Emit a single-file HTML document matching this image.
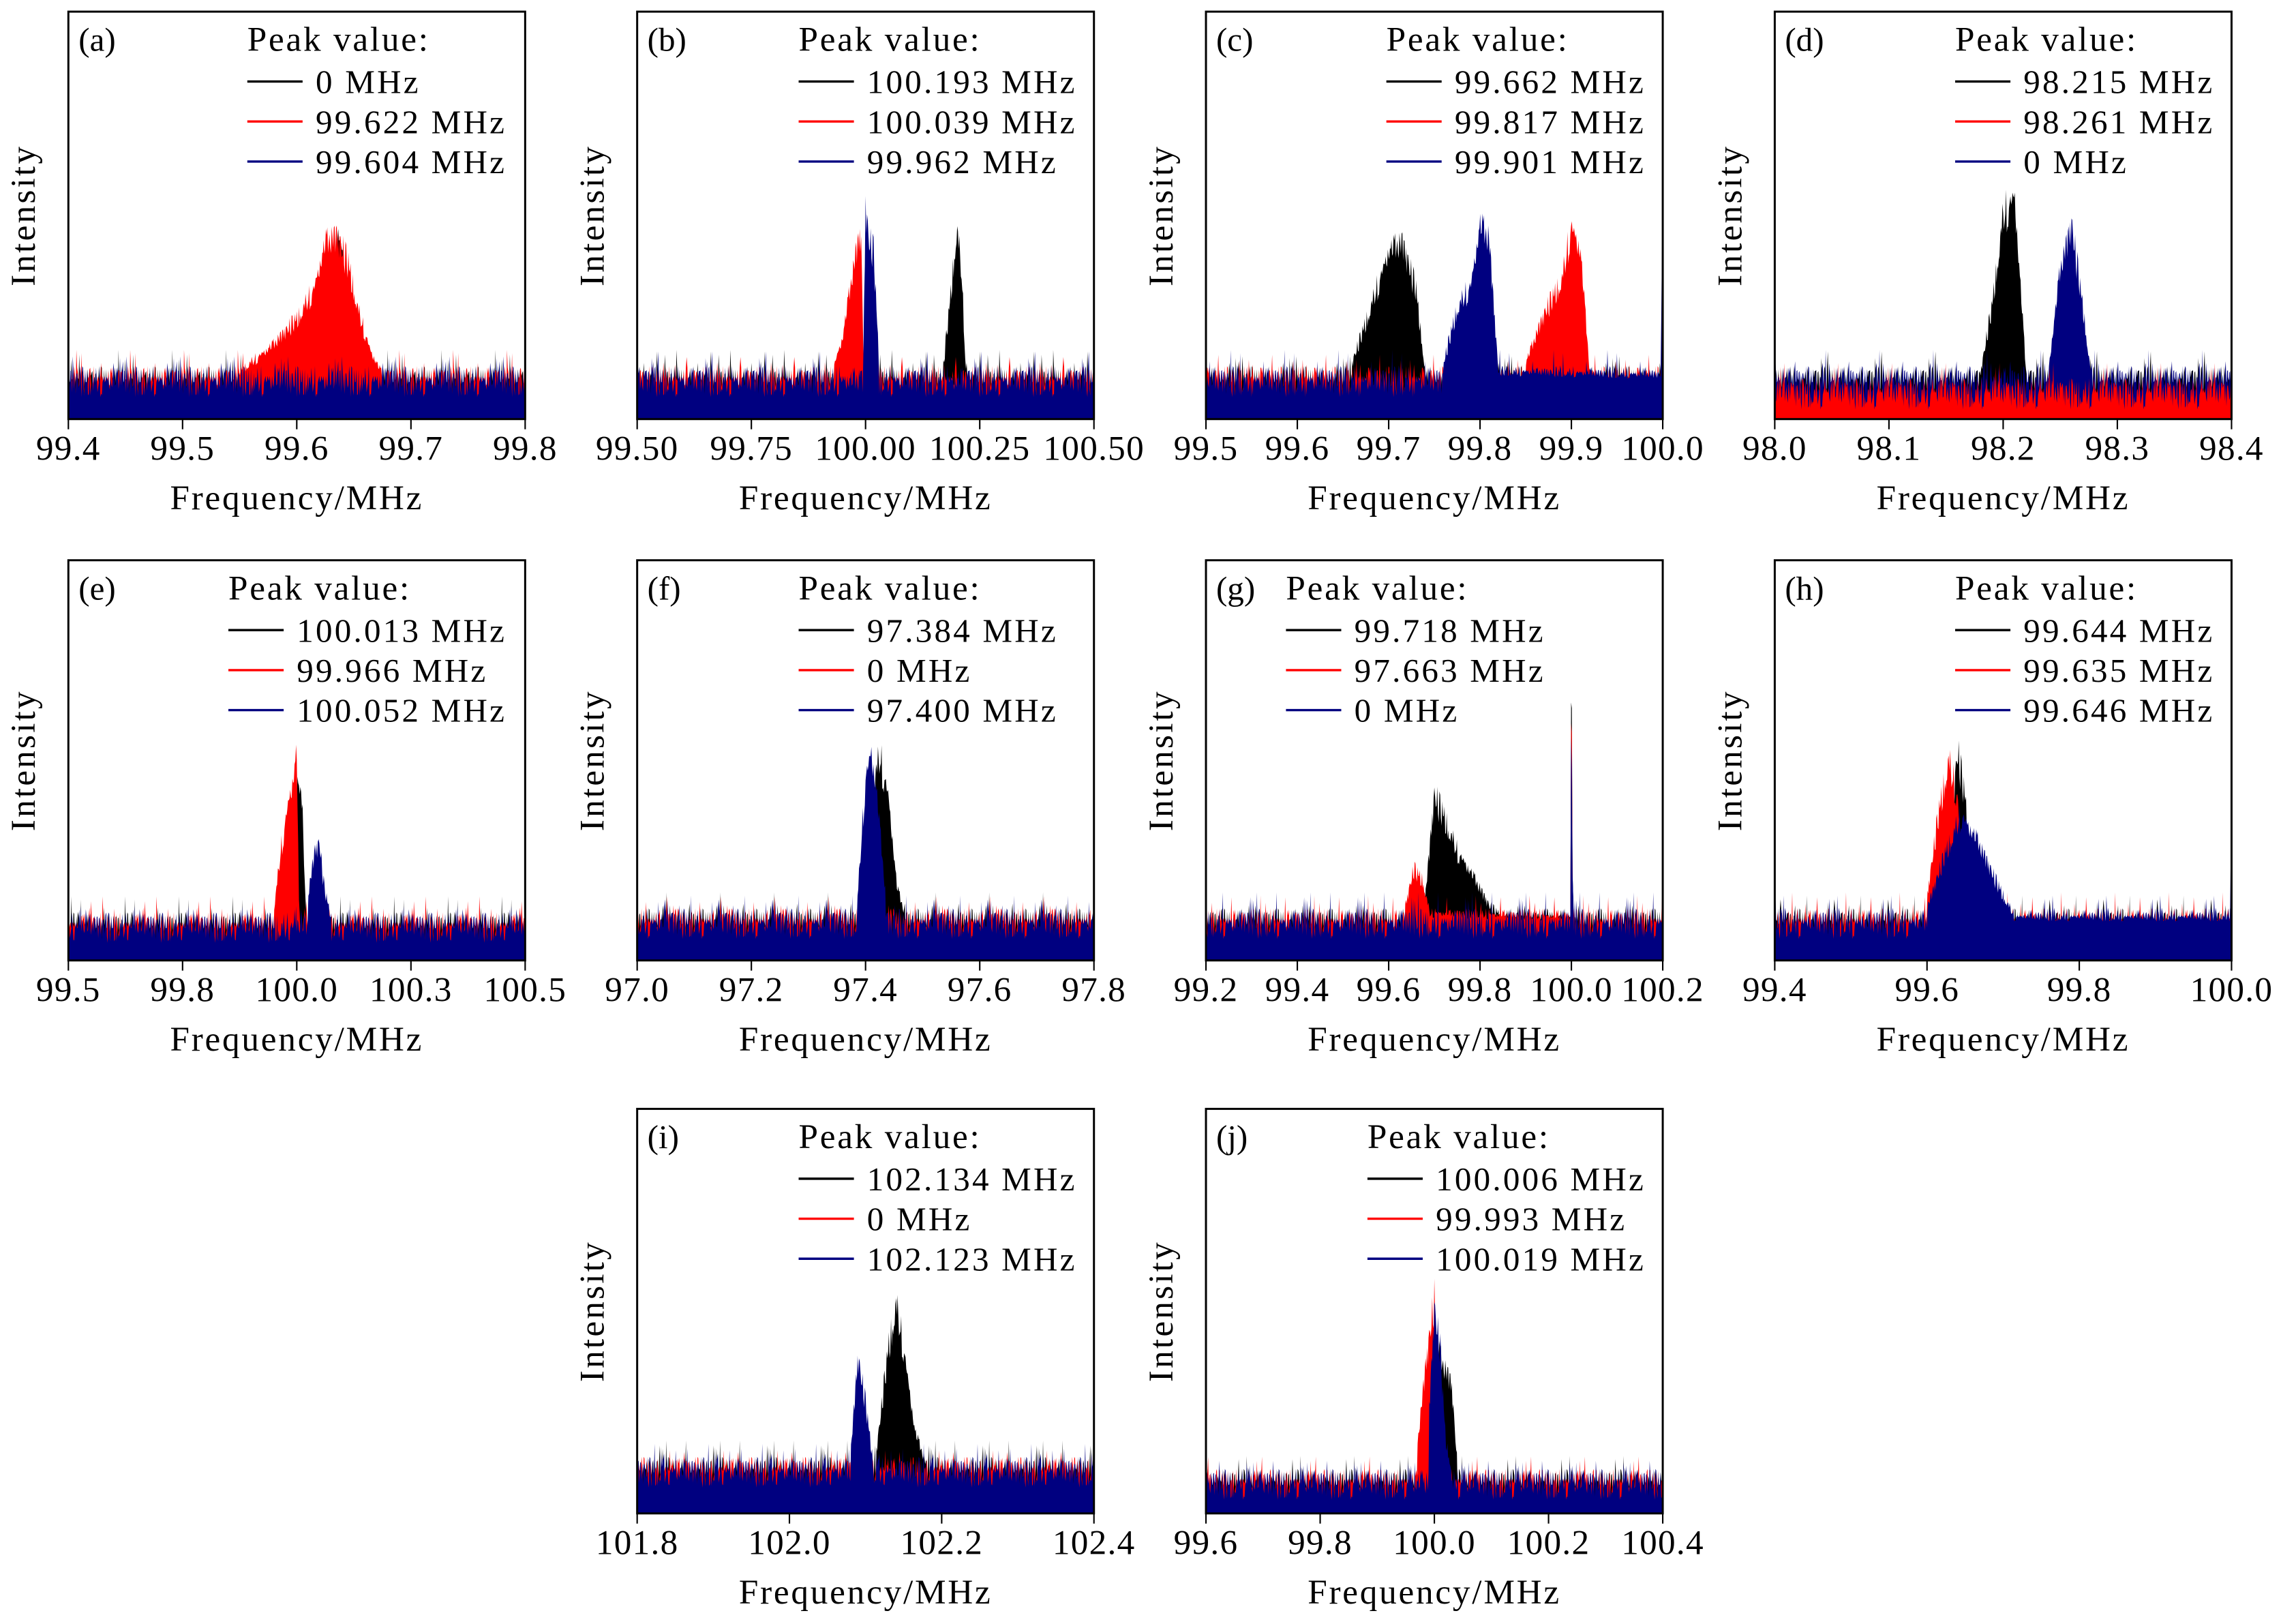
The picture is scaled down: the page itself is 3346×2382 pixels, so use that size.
<!DOCTYPE html>
<html><head><meta charset="utf-8"><style>
html,body{margin:0;padding:0;background:#fff;}
svg{display:block;}
text{font-family:"Liberation Serif",serif;fill:#000;}
</style></head>
<body>
<svg id="fig" xmlns="http://www.w3.org/2000/svg" width="3346" height="2382" viewBox="0 0 1568 1116" preserveAspectRatio="none"></svg>
<script>
// ---- data ----
const panelLetters = ["a","b","c","d","e","f","g","h","i","j"];
const xRanges = [[99.4,99.8],[99.5,100.5],[99.5,100.0],[98.0,98.4],[99.5,100.5],[97.0,97.8],[99.2,100.2],[99.4,100.0],[101.8,102.4],[99.6,100.4]];
const tickValues = [
 [99.4,99.5,99.6,99.7,99.8],[99.5,99.75,100,100.25,100.5],[99.5,99.6,99.7,99.8,99.9,100.0],[98.0,98.1,98.2,98.3,98.4],
 [99.5,99.75,100,100.25,100.5],[97.0,97.2,97.4,97.6,97.8],[99.2,99.4,99.6,99.8,100.0,100.2],[99.4,99.6,99.8,100.0],
 [101.8,102.0,102.2,102.4],[99.6,99.8,100.0,100.2,100.4]];
const tickLabels = [
 ["99.4","99.5","99.6","99.7","99.8"],["99.50","99.75","100.00","100.25","100.50"],["99.5","99.6","99.7","99.8","99.9","100.0"],["98.0","98.1","98.2","98.3","98.4"],
 ["99.5","99.8","100.0","100.3","100.5"],["97.0","97.2","97.4","97.6","97.8"],["99.2","99.4","99.6","99.8","100.0","100.2"],["99.4","99.6","99.8","100.0"],
 ["101.8","102.0","102.2","102.4"],["99.6","99.8","100.0","100.2","100.4"]];
const legendLabels = [
 ["0 MHz","99.622 MHz","99.604 MHz"],["100.193 MHz","100.039 MHz","99.962 MHz"],["99.662 MHz","99.817 MHz","99.901 MHz"],["98.215 MHz","98.261 MHz","0 MHz"],
 ["100.013 MHz","99.966 MHz","100.052 MHz"],["97.384 MHz","0 MHz","97.400 MHz"],["99.718 MHz","97.663 MHz","0 MHz"],["99.644 MHz","99.635 MHz","99.646 MHz"],
 ["102.134 MHz","0 MHz","102.123 MHz"],["100.006 MHz","99.993 MHz","100.019 MHz"]];
// noise floor level (fraction of plot height)
const blackFloor = [0.12,0.12,0.12,0.12,0.11,0.12,0.12,0.12,0.13,0.10];
const redFloor   = [0.12,0.12,0.12,0.09,0.11,0.12,0.12,0.12,0.13,0.10];
const blueFloor  = [0.12,0.12,0.12,0.12,0.11,0.12,0.12,0.12,0.13,0.10];
// peak envelopes [frequency, intensity]
const blackPeaks = [
 [[99.628,0.12],[99.636,0.5],[99.64,0.45],[99.645,0.12]],
 [[100.17,0.14],[100.185,0.32],[100.2,0.52],[100.21,0.4],[100.22,0.13]],
 [[99.66,0.15],[99.68,0.3],[99.7,0.45],[99.715,0.47],[99.73,0.35],[99.74,0.13]],
 [[98.18,0.12],[98.19,0.3],[98.2,0.55],[98.21,0.6],[98.22,0.13]],
 [[99.985,0.15],[99.995,0.45],[100.003,0.53],[100.012,0.42],[100.02,0.14]],
 [[97.405,0.18],[97.415,0.5],[97.425,0.56],[97.44,0.45],[97.455,0.2],[97.47,0.12]],
 [[99.68,0.17],[99.7,0.45],[99.72,0.4],[99.75,0.3],[99.78,0.24],[99.82,0.15],[99.85,0.12],[99.998,0.12],[100.0,0.95],[100.003,0.12]],
 [[99.625,0.2],[99.64,0.57],[99.65,0.45],[99.66,0.2],[99.67,0.12]],
 [[102.115,0.18],[102.13,0.45],[102.14,0.57],[102.15,0.45],[102.165,0.22],[102.18,0.13]],
 [[99.995,0.2],[100.005,0.45],[100.015,0.4],[100.03,0.35],[100.04,0.14]]];
const redPeaks = [
 [[99.55,0.13],[99.58,0.2],[99.6,0.27],[99.615,0.35],[99.625,0.47],[99.635,0.49],[99.645,0.42],[99.655,0.28],[99.665,0.18],[99.675,0.12]],
 [[99.93,0.14],[99.95,0.22],[99.965,0.34],[99.98,0.45],[99.99,0.5],[99.996,0.14]],
 [[99.85,0.15],[99.87,0.28],[99.89,0.38],[99.9,0.52],[99.91,0.45],[99.92,0.13]],
 [],
 [[99.95,0.14],[99.965,0.3],[99.98,0.42],[99.99,0.48],[100.0,0.57],[100.005,0.14]],
 [],
 [[99.635,0.14],[99.655,0.25],[99.675,0.22],[99.69,0.13],[99.998,0.12],[100.0,0.85],[100.003,0.12]],
 [[99.6,0.17],[99.615,0.4],[99.628,0.55],[99.64,0.45],[99.65,0.14]],
 [],
 [[99.97,0.18],[99.985,0.4],[100.0,0.58],[100.006,0.18]]];
const bluePeaks = [
 [],
 [[99.995,0.15],[100.0,0.57],[100.007,0.48],[100.018,0.45],[100.03,0.14]],
 [[99.76,0.15],[99.775,0.3],[99.79,0.36],[99.8,0.52],[99.81,0.48],[99.82,0.13],[99.998,0.12],[100.0,0.77]],
 [[98.24,0.14],[98.25,0.4],[98.26,0.52],[98.27,0.3],[98.277,0.12]],
 [[100.025,0.18],[100.04,0.3],[100.05,0.32],[100.06,0.2],[100.075,0.12]],
 [[97.385,0.15],[97.4,0.5],[97.41,0.57],[97.42,0.45],[97.435,0.18]],
 [[99.998,0.12],[100.0,0.78],[100.003,0.12]],
 [[99.6,0.14],[99.625,0.3],[99.645,0.4],[99.665,0.33],[99.69,0.22],[99.715,0.12],[99.998,0.12],[100.0,0.57]],
 [[102.08,0.15],[102.09,0.42],[102.1,0.3],[102.11,0.14]],
 [[99.99,0.25],[100.0,0.55],[100.01,0.45],[100.02,0.2],[100.03,0.12]]];
// hand-written noise texture (jaggedness of the noise band)
const noiseTex = [0.5,0.9,0.2,0.7,0.4,1.0,0.3,0.6,0.1,0.8,0.45,0.95,0.25,0.55,0.7,0.15,0.85,0.35,0.6,0.05,0.75,0.5,0.9,0.3,0.65,0.2,1.0,0.4,0.55,0.1,0.8,0.6,0.35,0.95,0.25,0.7,0.45,0.15,0.85,0.5,0.3,0.9,0.6,0.2,0.75,0.4,1.0,0.1,0.65,0.55,0.3,0.8,0.45,0.05,0.9,0.35,0.7,0.25,0.6,0.95,0.15,0.5,0.85,0.4,0.62,0.33,0.78,0.12,0.52,0.88,0.28,0.68,0.42,0.97];
const drawOrders = [["k","r","b"],["k","r","b"],["k","r","b"],["k","b","r"],["k","r","b"],["k","r","b"],["k","r","b"],["k","r","b"],["k","r","b"],["k","r","b"]];

// ---- layout ----
const cols = [47,438,829,1220];
const panelW = 314;
const rowsY = [[8,288],[385,660],[762,1040]];
const panelPos = [[0,0],[1,0],[2,0],[3,0],[0,1],[1,1],[2,1],[3,1],[1,2],[2,2]];
const legendX = [170,549,953,1344,157,549,884,1344,549,940];
const colors = {k:"#000000", r:"#ff0000", b:"#000080"};

const NS = "http://www.w3.org/2000/svg";
const svg = document.getElementById("fig");
function mk(tag, attrs, parent){
  const e = document.createElementNS(NS, tag);
  for (const k in attrs) e.setAttribute(k, attrs[k]);
  (parent||svg).appendChild(e);
  return e;
}
function peakAt(pk, f){
  if (!pk.length || f < pk[0][0] || f > pk[pk.length-1][0]) return 0;
  for (let i=0;i<pk.length-1;i++){
    const a=pk[i], b=pk[i+1];
    if (f>=a[0] && f<=b[0]){ const t=(b[0]===a[0])?0:(f-a[0])/(b[0]-a[0]); return a[1]+t*(b[1]-a[1]); }
  }
  return 0;
}

panelLetters.forEach((letter, p) => {
  const x0 = cols[panelPos[p][0]], y0 = rowsY[panelPos[p][1]][0], y1 = rowsY[panelPos[p][1]][1];
  const h = y1 - y0, w = panelW;
  const [fmin,fmax] = xRanges[p];
  const xs = f => x0 + (f - fmin)/(fmax - fmin)*w;
  const ys = v => y1 - v*h;
  const g = mk("g", {});
  
  

  const seriesData = {k:[blackFloor[p], blackPeaks[p]], r:[redFloor[p], redPeaks[p]], b:[blueFloor[p], bluePeaks[p]]};
  const offsets = {k:7, r:23, b:41};
  drawOrders[p].forEach(s => {
    const [fl, pk] = seriesData[s];
    let pts = [x0+","+y1];
    const N = w*2;
    for (let i=0;i<=N;i++){
      const f = fmin + (i/N)*(fmax-fmin);
      const n = noiseTex[(i*7 + offsets[s] + p*11) % noiseTex.length];
      const n2 = noiseTex[(i*3 + offsets[s]*2 + p*5) % noiseTex.length];
      let v = fl - 0.07 + n*0.08 + (n2>0.9?0.04:0);
      const pv = peakAt(pk, f);
      if (pv > 0) v = Math.max(v, pv*(0.8 + 0.2*n));
      pts.push(xs(f).toFixed(2)+","+ys(Math.min(v,1)).toFixed(2));
    }
    pts.push((x0+w)+","+y1);
    const poly = mk("polygon", {points: pts.join(" "), fill: colors[s]}, g);
    
    
  });

  const frame = mk("rect", {x:x0, y:y0, width:w, height:h, fill:"none", stroke:"#000", "stroke-width":1.4}, g);
  
  

  tickValues[p].forEach((tv, i) => {
    const tx = xs(tv);
    const t = mk("line", {x1:tx, y1:y1, x2:tx, y2:y1+7, stroke:"#000", "stroke-width":1}, g);
    
    
    const lb = mk("text", {x:tx, y:y1+28, "font-size":24, "text-anchor":"middle", "letter-spacing":0.6}, g);
    lb.textContent = tickLabels[p][i];
    
    
  });
  const xl = mk("text", {x:x0+w/2, y:y1+62, "font-size":24, "text-anchor":"middle", "letter-spacing":1.3}, g);
  xl.textContent = "Frequency/MHz";
  
  
  const cy = (y0+y1)/2;
  const yl = mk("text", {x:x0-23, y:cy, "font-size":24, "text-anchor":"middle", transform:"rotate(-90 "+(x0-23)+" "+cy+")", "letter-spacing":1.5}, g);
  yl.textContent = "Intensity";
  
  

  const pl = mk("text", {x:x0+7, y:y0+27, "font-size":23}, g);
  pl.textContent = "(" + letter + ")";
  
  

  const lx = legendX[p];
  const hd = mk("text", {x:lx, y:y0+27, "font-size":24, "letter-spacing":1.3}, g);
  hd.textContent = "Peak value:";
  
  
  ["k","r","b"].forEach((s, i) => {
    const ly = y0 + 48 + i*27.5;
    const ln = mk("line", {x1:lx, y1:ly, x2:lx+38, y2:ly, stroke:colors[s], "stroke-width":1.6}, g);
    
    
    const lt = mk("text", {x:lx+47, y:ly+8, "font-size":23, "letter-spacing":1.5}, g);
    lt.textContent = legendLabels[p][i];
    
    
  });
});
</script>
</body></html>
